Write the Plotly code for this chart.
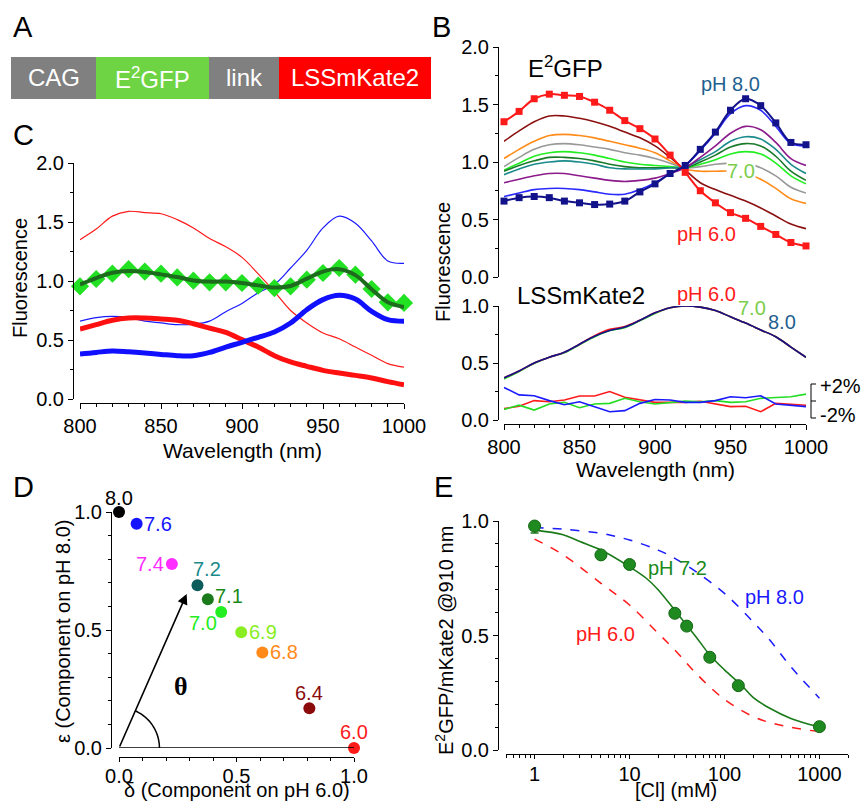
import numpy as np
import plotly.graph_objects as go

W, H = 862, 803
FONT = "Liberation Sans, Arial, sans-serif"

# ---------------- data ----------------
wavelength = list(range(800, 1001, 10))

# E2GFP excitation spectra at different pH (panel B, top)
e2_ph60 = [1.35, 1.44, 1.55, 1.59, 1.58, 1.57, 1.52, 1.45, 1.36, 1.29, 1.20,
           1.06, 0.91, 0.75, 0.645, 0.56, 0.51, 0.44, 0.37, 0.30, 0.27]
e2_ph80 = [0.66, 0.69, 0.70, 0.69, 0.66, 0.645, 0.63, 0.634, 0.66, 0.74, 0.81,
           0.90, 0.97, 1.11, 1.26, 1.45, 1.55, 1.49, 1.34, 1.17, 1.15]
e2_ph64 = [1.18, 1.27, 1.35, 1.40, 1.40, 1.38, 1.35, 1.31, 1.26, 1.21, 1.14,
           1.04, 0.93, 0.82, 0.76, 0.71, 0.66, 0.60, 0.53, 0.46, 0.42]
e2_ph68 = [1.03, 1.11, 1.18, 1.23, 1.24, 1.23, 1.21, 1.18, 1.15, 1.12, 1.08,
           1.01, 0.94, 0.92, 0.92, 0.92, 0.90, 0.85, 0.77, 0.68, 0.64]
e2_ph69 = [0.96, 1.04, 1.11, 1.15, 1.16, 1.15, 1.13, 1.11, 1.08, 1.06, 1.03,
           0.99, 0.95, 0.96, 0.98, 0.99, 0.99, 0.95, 0.88, 0.78, 0.73]
e2_ph70 = [0.93, 0.99, 1.05, 1.08, 1.09, 1.08, 1.06, 1.03, 1.00, 0.98, 0.97,
           0.96, 0.95, 0.98, 1.02, 1.07, 1.09, 1.07, 0.99, 0.88, 0.81]
e2_ph71 = [0.92, 0.97, 1.01, 1.04, 1.04, 1.03, 1.01, 0.98, 0.96, 0.95, 0.95,
           0.95, 0.95, 1.00, 1.06, 1.13, 1.16, 1.14, 1.05, 0.92, 0.84]
e2_ph72 = [0.89, 0.94, 0.98, 1.00, 1.01, 1.00, 0.98, 0.95, 0.94, 0.94, 0.94,
           0.95, 0.96, 1.02, 1.09, 1.18, 1.22, 1.20, 1.11, 0.98, 0.90]
e2_ph74 = [0.82, 0.85, 0.88, 0.90, 0.90, 0.88, 0.86, 0.84, 0.83, 0.84, 0.86,
           0.90, 0.95, 1.04, 1.14, 1.25, 1.31, 1.28, 1.17, 1.03, 0.97]
e2_ph76 = [0.70, 0.73, 0.76, 0.77, 0.77, 0.76, 0.74, 0.72, 0.72, 0.76, 0.82,
           0.90, 0.97, 1.10, 1.25, 1.42, 1.49, 1.45, 1.31, 1.16, 1.14]

# LSSmKate2 spectra (panel B, bottom)
kate_ph60 = [0.37, 0.43, 0.50, 0.55, 0.595, 0.665, 0.74, 0.795, 0.82, 0.875, 0.94,
             0.985, 1.0, 0.99, 0.96, 0.905, 0.85, 0.79, 0.73, 0.64, 0.55]
kate_ph70 = [0.36, 0.425, 0.495, 0.55, 0.59, 0.66, 0.73, 0.785, 0.81, 0.87, 0.935,
             0.985, 1.0, 0.99, 0.96, 0.905, 0.85, 0.79, 0.73, 0.64, 0.55]
kate_ph80 = [0.37, 0.43, 0.50, 0.55, 0.595, 0.665, 0.735, 0.785, 0.815, 0.875, 0.94,
             0.985, 1.0, 0.99, 0.96, 0.905, 0.85, 0.79, 0.73, 0.64, 0.55]
# residuals, drawn around an offset baseline (+/-2 % bracket)
resid_ph60 = [0.10, 0.12, 0.17, 0.16, 0.175, 0.21, 0.21, 0.25, 0.20, 0.175, 0.155,
              0.155, 0.155, 0.165, 0.14, 0.117, 0.12, 0.073, 0.146, 0.14, 0.13]
resid_ph70 = [0.093, 0.13, 0.087, 0.14, 0.155, 0.108, 0.14, 0.146, 0.19, 0.16, 0.14,
              0.152, 0.166, 0.16, 0.17, 0.155, 0.16, 0.19, 0.198, 0.204, 0.227]
resid_ph80 = [0.285, 0.22, 0.213, 0.17, 0.134, 0.16, 0.117, 0.073, 0.082, 0.146, 0.18,
              0.175, 0.155, 0.155, 0.17, 0.204, 0.195, 0.213, 0.14, 0.13, 0.117]

# panel C: pH 7.2 spectrum decomposed into pH 6.0 and pH 8.0 components
comp_ph60 = [0.593, 0.63, 0.667, 0.686, 0.686, 0.678, 0.667, 0.638, 0.60, 0.565, 0.503,
             0.44, 0.367, 0.314, 0.277, 0.243, 0.22, 0.20, 0.178, 0.147, 0.12]
comp_ph80 = [0.381, 0.395, 0.407, 0.40, 0.39, 0.378, 0.367, 0.367, 0.395, 0.44, 0.48,
             0.523, 0.568, 0.644, 0.757, 0.842, 0.879, 0.847, 0.743, 0.672, 0.658]
meas_ph72 = [0.955, 1.017, 1.062, 1.10, 1.08, 1.062, 1.03, 1.003, 0.989, 0.989, 0.983,
             0.96, 0.94, 0.955, 1.011, 1.068, 1.11, 1.054, 0.932, 0.819, 0.814]
fit_ph72 = [0.97, 1.025, 1.07, 1.085, 1.076, 1.056, 1.034, 1.005, 0.995, 0.995, 0.983,
            0.963, 0.945, 0.958, 1.02, 1.08, 1.10, 1.05, 0.93, 0.82, 0.78]

# panel D: component coordinates
ph_labels = ["8.0", "7.6", "7.4", "7.2", "7.1", "7.0", "6.9", "6.8", "6.4", "6.0"]
delta = [0.0, 0.075, 0.225, 0.334, 0.378, 0.435, 0.52, 0.61, 0.81, 1.0]
epsilon = [1.0, 0.95, 0.78, 0.69, 0.63, 0.576, 0.49, 0.405, 0.168, 0.0]
ph_colors = ["#000000", "#1414ff", "#ff2cff", "#0d5c5c", "#1b7a1b", "#22ee22",
             "#88ee22", "#ff8a1a", "#8b0b0b", "#ff1a1a"]
label_colors = ["#000000", "#1414ff", "#ff2cff", "#1a8a8a", "#1b8a1b", "#22ee22",
                "#88ee22", "#ff8a1a", "#8b0b0b", "#ff1a1a"]
label_shift = [(0, 14), (21, 0), (-22, 0), (10, 16), (21, 3), (-18, -11),
               (22, 0), (22, 0), (0, 15), (0, 16)]

# panel E: chloride titration
cl_meas = [1, 5, 10, 30, 40, 70, 140, 1000]
ratio_ph72 = [0.978, 0.852, 0.81, 0.597, 0.541, 0.405, 0.281, 0.102]
ratio_err = [0.03, 0, 0, 0, 0, 0, 0, 0]
cl_fit = [1, 2, 3, 5, 10, 15, 20, 30, 40, 50, 70, 100, 150, 200, 300, 500, 1000]
ratio_fit_ph72 = [0.96, 0.94, 0.91, 0.873, 0.80, 0.75, 0.70, 0.61, 0.545, 0.495,
                  0.415, 0.35, 0.284, 0.23, 0.182, 0.138, 0.10]
cl_model = [1, 2, 5, 10, 20, 30, 50, 100, 200, 300, 500, 1000]
ratio_ph80 = [0.972, 0.964, 0.946, 0.917, 0.873, 0.837, 0.779, 0.684, 0.56, 0.48, 0.364, 0.226]
ratio_ph60 = [0.921, 0.852, 0.728, 0.633, 0.51, 0.437, 0.335, 0.221, 0.146, 0.12, 0.099, 0.08]

# panel A construct
construct_parts = ["CAG", "E<sup>2</sup>GFP", "link", "LSSmKate2"]
construct_edges = [11, 96, 209, 279, 431]
construct_colors = ["#808080", "#6fd444", "#808080", "#ff0000"]

TICK_SIZE = 20
TEXT_SIZE = 20


# ---------------- helpers ----------------
def px(x):
    return x / W


def py(y):
    return 1 - y / H


def axis(**kw):
    d = dict(showline=True, linecolor="black", linewidth=1, ticks="outside",
             ticklen=5, tickwidth=1, tickcolor="black", showgrid=False,
             zeroline=False, fixedrange=True, automargin=False,
             tickfont=dict(family=FONT, size=TICK_SIZE, color="black"))
    d.update(kw)
    return d


def minor(step):
    return dict(ticks="outside", ticklen=3, tickwidth=1, tickcolor="black",
                dtick=step, showgrid=False)


annotations = []


def label(text, x, y, size=TEXT_SIZE, color="black", **kw):
    annotations.append(dict(text=text, x=px(x), y=py(y), xref="paper", yref="paper",
                            showarrow=False, xanchor="center", yanchor="middle",
                            font=dict(family=FONT, size=size, color=color), **kw))


fig = go.Figure()

# ---------------- panel B top ----------------
b_curves = [(e2_ph64, "#8b1010"), (e2_ph68, "#ff8c1a"), (e2_ph69, "#999999"),
            (e2_ph70, "#22ee22"), (e2_ph71, "#1a7a2a"), (e2_ph72, "#1a8a8a"),
            (e2_ph74, "#8b1a8b"), (e2_ph76, "#2a2aff")]
for ys, col in b_curves:
    fig.add_trace(go.Scatter(x=wavelength, y=ys, mode="lines", line=dict(color=col, width=1.6, shape="spline"),
                             xaxis="x", yaxis="y", hoverinfo="skip"))
for ys, col in [(e2_ph60, "#ff1a1a"), (e2_ph80, "#12128a")]:
    fig.add_trace(go.Scatter(x=wavelength, y=ys, mode="lines+markers",
                             line=dict(color=col, width=2, shape="spline"),
                             marker=dict(symbol="square", size=7, color=col),
                             xaxis="x", yaxis="y", cliponaxis=False))

# ---------------- panel B bottom ----------------
for ys, col in [(kate_ph70, "#22dd22"), (kate_ph60, "#ff1a1a"), (kate_ph80, "#12128a")]:
    fig.add_trace(go.Scatter(x=wavelength, y=ys, mode="lines", line=dict(color=col, width=1.6, shape="spline"),
                             xaxis="x2", yaxis="y2"))
for ys, col in [(resid_ph60, "#ff1a1a"), (resid_ph70, "#22dd22"), (resid_ph80, "#1a1aff")]:
    fig.add_trace(go.Scatter(x=wavelength, y=ys, mode="lines", line=dict(color=col, width=1.6),
                             xaxis="x2", yaxis="y2"))

# ---------------- panel C ----------------
fig.add_trace(go.Scatter(x=wavelength, y=e2_ph60, mode="lines", line=dict(color="#ff1a1a", width=1.2, shape="spline"),
                         xaxis="x3", yaxis="y3"))
fig.add_trace(go.Scatter(x=wavelength, y=e2_ph80, mode="lines", line=dict(color="#1a1aff", width=1.2, shape="spline"),
                         xaxis="x3", yaxis="y3"))
fig.add_trace(go.Scatter(x=wavelength, y=comp_ph60, mode="lines", line=dict(color="#ff1010", width=5, shape="spline"),
                         xaxis="x3", yaxis="y3"))
fig.add_trace(go.Scatter(x=wavelength, y=comp_ph80, mode="lines", line=dict(color="#1010ff", width=5, shape="spline"),
                         xaxis="x3", yaxis="y3"))
fig.add_trace(go.Scatter(x=wavelength, y=meas_ph72, mode="markers",
                         marker=dict(symbol="diamond", size=14, color="#22e022"),
                         xaxis="x3", yaxis="y3", cliponaxis=False))
fig.add_trace(go.Scatter(x=wavelength, y=fit_ph72, mode="lines", line=dict(color="#1d6b1d", width=4, shape="spline"),
                         xaxis="x3", yaxis="y3"))

# ---------------- panel D ----------------
fig.add_trace(go.Scatter(x=delta, y=epsilon, mode="markers",
                         marker=dict(size=12, color=ph_colors), xaxis="x4", yaxis="y4", cliponaxis=False))
for t, d, e, c, (dx, dy) in zip(ph_labels, delta, epsilon, label_colors, label_shift):
    annotations.append(dict(text=t, x=d, y=e, xref="x4", yref="y4", showarrow=False,
                            xshift=dx, yshift=dy, font=dict(family=FONT, size=TEXT_SIZE, color=c)))
# theta construction: baseline, arrow and arc
fig.add_shape(type="line", x0=0, y0=0, x1=1, y1=0, xref="x4", yref="y4",
              line=dict(color="black", width=1.5))
annotations.append(dict(x=0.288, y=0.653, ax=0, ay=0, xref="x4", yref="y4", axref="x4", ayref="y4",
                        text="", showarrow=True, arrowhead=2, arrowsize=1.3, arrowwidth=1.6,
                        arrowcolor="black"))
arc_t = np.linspace(0, np.arctan2(0.653, 0.288), 30)
arc_r = 0.172
arc_path = "M " + " L ".join(f"{arc_r*np.cos(a):.4f},{arc_r*np.sin(a):.4f}" for a in arc_t)
fig.add_shape(type="path", path=arc_path, xref="x4", yref="y4", line=dict(color="black", width=1.5))
annotations.append(dict(text="<b>θ</b>", x=px(172), y=py(703), xref="paper", yref="paper",
                        showarrow=False, font=dict(family="Liberation Serif, DejaVu Serif, serif", size=26, color="black")))

# ---------------- panel E ----------------
fig.add_trace(go.Scatter(x=cl_model, y=ratio_ph80, mode="lines", line=dict(color="#1a1aff", width=1.5, dash="dash", shape="spline"),
                         xaxis="x5", yaxis="y5"))
fig.add_trace(go.Scatter(x=cl_model, y=ratio_ph60, mode="lines", line=dict(color="#ff1a1a", width=1.5, dash="dash", shape="spline"),
                         xaxis="x5", yaxis="y5"))
fig.add_trace(go.Scatter(x=cl_fit, y=ratio_fit_ph72, mode="lines", line=dict(color="#1a7a1a", width=1.6, shape="spline"),
                         xaxis="x5", yaxis="y5"))
fig.add_trace(go.Scatter(x=cl_meas, y=ratio_ph72, mode="markers",
                         marker=dict(size=12, color="#1f8a1f", line=dict(color="#116611", width=1)),
                         error_y=dict(type="data", array=ratio_err, color="#1a7a1a", thickness=1.5, width=4),
                         xaxis="x5", yaxis="y5", cliponaxis=False))

# ---------------- panel A construct ----------------
for i, (name, col) in enumerate(zip(construct_parts, construct_colors)):
    x0, x1 = construct_edges[i], construct_edges[i + 1]
    fig.add_shape(type="rect", x0=px(x0), x1=px(x1), y0=py(99), y1=py(57), xref="paper", yref="paper",
                  fillcolor=col, line=dict(width=0))
    label(name, (x0 + x1) / 2, 78, size=24, color="white")

# ---------------- text ----------------
for letter, x, y in [("A", 23, 27), ("B", 441, 27), ("C", 23, 135), ("D", 23, 487), ("E", 443, 487)]:
    label(letter, x, y, size=29)

label("E<sup>2</sup>GFP", 565, 67, size=24)
label("pH 8.0", 730, 84, color="#1f5f8f")
label("7.0", 741, 171, color="#7ccd4c", bgcolor="white", borderpad=0)
label("pH 6.0", 706, 234, color="#ff1a1a")
label("LSSmKate2", 581, 295, size=24)
label("pH 6.0", 706, 294, color="#ff1a1a")
label("7.0", 752, 308, color="#7ccd4c")
label("8.0", 782, 322, color="#1f5f8f")
label("+2%", 840, 386)
label("-2%", 838, 415)
label("Fluorescence", 443, 262, textangle=-90)
label("Wavelength (nm)", 655, 469, size=21)

label("Fluorescence", 20, 278, textangle=-90)
label("Wavelength (nm)", 242, 450, size=21)

label("ε (Component on pH 8.0)", 63, 632, textangle=-90)
label("δ (Component on pH 6.0)", 237, 790)

label("pH 7.2", 677, 568, color="#1a8a1a")
label("pH 8.0", 774, 597, color="#1a1aff")
label("pH 6.0", 605, 634, color="#ff1a1a")
label("E<sup>2</sup>GFP/mKate2 @910 nm", 444, 640, textangle=-90)
label("[Cl] (mM)", 676, 790)

# residual scale bracket
fig.add_shape(type="line", x0=px(811), x1=px(811), y0=py(384), y1=py(418), xref="paper", yref="paper",
              line=dict(color="black", width=1))
for yt in [384, 401, 418]:
    fig.add_shape(type="line", x0=px(811), x1=px(816), y0=py(yt), y1=py(yt), xref="paper", yref="paper",
                  line=dict(color="black", width=1))

# ---------------- axes ----------------
log_minor = [0.5, 0.6, 0.7, 0.8, 0.9] + [m * 10 ** k for k in range(0, 3) for m in range(2, 10)] + [2000]

fig.update_layout(
    width=W, height=H, margin=dict(l=0, r=0, t=0, b=0, pad=0, autoexpand=False),
    autosize=False,
    paper_bgcolor="white", plot_bgcolor="rgba(0,0,0,0)", showlegend=False,
    annotations=annotations,
    # B top
    xaxis=axis(domain=[px(504), px(806)], range=[800, 1000], visible=False, anchor="y"),
    yaxis=axis(domain=[py(277), py(47)], range=[0, 2], anchor="free", position=px(498),
               dtick=0.5, tickformat=".1f", minor=minor(0.25)),
    # B bottom
    xaxis2=axis(domain=[px(504), px(806)], range=[800, 1000], anchor="free", position=py(424),
                dtick=50, minor=minor(10)),
    yaxis2=axis(domain=[py(420), py(306)], range=[0, 1], anchor="free", position=px(498),
                dtick=0.5, tickformat=".1f", minor=minor(0.25)),
    # C
    xaxis3=axis(domain=[px(80), px(404)], range=[800, 1000], anchor="free", position=py(403),
                dtick=50, minor=minor(10)),
    yaxis3=axis(domain=[py(399), py(163)], range=[0, 2], anchor="free", position=px(73),
                dtick=0.5, tickformat=".1f", minor=minor(0.25)),
    # D
    xaxis4=axis(domain=[px(119), px(354)], range=[0, 1], anchor="free", position=py(757),
                dtick=0.5, tickformat=".1f", ticklen=4, ticklabelstandoff=-3, minor=minor(0.1)),
    yaxis4=axis(domain=[py(748), py(512)], range=[0, 1], anchor="free", position=px(111),
                dtick=0.5, tickformat=".1f", minor=minor(0.1)),
    # E
    xaxis5=axis(type="log", domain=[px(506), px(848)], range=[np.log10(0.5), np.log10(2000)],
                anchor="free", position=py(754), tickvals=[1, 10, 100, 1000],
                ticktext=["1", "10", "100", "1000"], ticklen=4, ticklabelstandoff=-2,
                minor=dict(ticks="outside", ticklen=3, tickcolor="black", tickvals=log_minor, showgrid=False)),
    yaxis5=axis(domain=[py(750), py(521)], range=[0, 1], anchor="free", position=px(498),
                dtick=0.5, tickformat=".1f", minor=minor(0.1)),
)

fig.write_html("out.html", config={"responsive": False, "displayModeBar": False})
